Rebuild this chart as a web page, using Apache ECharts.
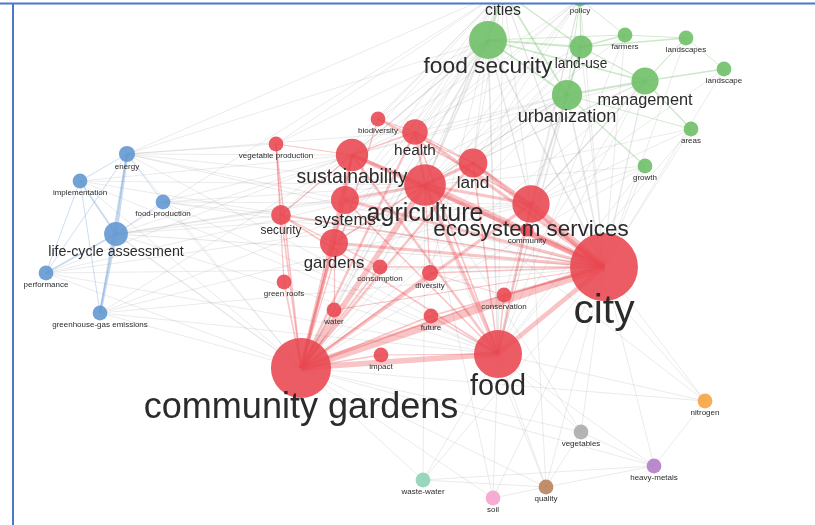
<!DOCTYPE html>
<html>
<head>
<meta charset="utf-8">
<script src="https://cdn.jsdelivr.net/npm/echarts@6/dist/echarts.min.js"></script>
<style>
  html, body { margin: 0; padding: 0; background: #ffffff; }
  #chart { width: 815px; height: 525px; }
</style>
</head>
<body>
<div id="chart"></div>
<script>
// Keyword co-occurrence map: terms, their cluster, occurrences and map coordinates.
const terms = [
  'city', 'community gardens', 'food', 'agriculture', 'ecosystem services',
  'sustainability', 'land', 'systems', 'gardens', 'health', 'security',
  'diversity', 'biodiversity', 'vegetable production', 'consumption',
  'green roofs', 'water', 'future', 'conservation', 'impact', 'community',
  'food security', 'cities', 'policy', 'land-use', 'farmers', 'landscapes',
  'landscape', 'management', 'urbanization', 'areas', 'growth',
  'life-cycle assessment', 'energy', 'implementation', 'food-production',
  'performance', 'greenhouse-gas emissions',
  'nitrogen', 'vegetables', 'heavy-metals', 'quality', 'waste-water', 'soil'
];
const clusterOf = [
  1, 1, 1, 1, 1,
  1, 1, 1, 1, 1, 1,
  1, 1, 1, 1,
  1, 1, 1, 1, 1, 1,
  2, 2, 2, 2, 2, 2,
  2, 2, 2, 2, 2,
  3, 3, 3, 3,
  3, 3,
  4, 5, 6, 7, 8, 9
];
const occurrences = [
  106, 83, 53, 40, 32,
  24, 19, 18, 18, 15, 9,
  6, 5, 5, 5,
  5, 5, 5, 5, 5, 4,
  33, 16, 5, 12, 5, 5,
  5, 17, 21, 5, 5,
  13, 6, 5, 5,
  5, 5,
  5, 5, 5, 5, 5, 5
];
const mapX = [
  604, 301, 498, 425, 531,
  352, 473, 345, 334, 415, 281,
  430, 378, 276, 380,
  284, 334, 431, 504, 381, 527,
  488, 503, 580, 581, 625, 686,
  724, 645, 567, 691, 645,
  116, 127, 80, 163,
  46, 100,
  705, 581, 654, 546, 423, 493
];
const mapY = [
  267, 368, 354, 185, 204,
  155, 163, 200, 243, 132, 215,
  273, 119, 144, 267,
  282, 310, 316, 295, 355, 230,
  40, -9, -1, 47, 35, 38,
  69, 81, 95, 129, 166,
  234, 154, 181, 202,
  273, 313,
  401, 432, 466, 487, 480, 498
];

// Co-occurrence links: [term, term, link strength]
const coOccurrence = [
  // between clusters
  ['energy', 'agriculture', 1], ['energy', 'city', 1], ['energy', 'sustainability', 1], ['energy', 'food', 1], ['energy', 'vegetable production', 1],
  ['energy', 'community gardens', 1], ['energy', 'systems', 1], ['energy', 'health', 1],
  ['implementation', 'city', 1], ['implementation', 'agriculture', 1], ['implementation', 'community gardens', 1],
  ['implementation', 'sustainability', 1], ['implementation', 'food', 1],
  ['food-production', 'agriculture', 1], ['food-production', 'city', 1], ['food-production', 'food', 1], ['food-production', 'sustainability', 1],
  ['food-production', 'community gardens', 1], ['food-production', 'security', 1], ['food-production', 'ecosystem services', 1],
  ['life-cycle assessment', 'city', 1.5], ['life-cycle assessment', 'agriculture', 1.5], ['life-cycle assessment', 'food', 1],
  ['life-cycle assessment', 'community gardens', 1.5], ['life-cycle assessment', 'sustainability', 1], ['life-cycle assessment', 'systems', 1],
  ['life-cycle assessment', 'security', 1], ['life-cycle assessment', 'ecosystem services', 1],
  ['performance', 'city', 1], ['performance', 'community gardens', 1], ['performance', 'ecosystem services', 1], ['performance', 'food', 1],
  ['performance', 'agriculture', 1], ['performance', 'sustainability', 1],
  ['greenhouse-gas emissions', 'city', 1], ['greenhouse-gas emissions', 'community gardens', 1], ['greenhouse-gas emissions', 'food', 1],
  ['greenhouse-gas emissions', 'agriculture', 1], ['greenhouse-gas emissions', 'ecosystem services', 1], ['greenhouse-gas emissions', 'sustainability', 1],
  ['food security', 'city', 2], ['food security', 'agriculture', 2], ['food security', 'food', 2], ['food security', 'community gardens', 2],
  ['food security', 'sustainability', 1.5], ['food security', 'health', 1], ['food security', 'land', 1], ['food security', 'systems', 1],
  ['food security', 'security', 1], ['food security', 'ecosystem services', 1.5], ['food security', 'gardens', 1],
  ['food security', 'vegetable production', 1], ['food security', 'biodiversity', 1], ['food security', 'energy', 1],
  ['food security', 'consumption', 1], ['food security', 'diversity', 1],
  ['urbanization', 'city', 2], ['urbanization', 'agriculture', 1.5], ['urbanization', 'ecosystem services', 1.5], ['urbanization', 'food', 1],
  ['urbanization', 'land', 1], ['urbanization', 'community gardens', 1], ['urbanization', 'sustainability', 1],
  ['urbanization', 'health', 1], ['urbanization', 'systems', 1], ['urbanization', 'gardens', 1], ['urbanization', 'conservation', 1],
  ['management', 'city', 1.5], ['management', 'ecosystem services', 1.5], ['management', 'agriculture', 1], ['management', 'food', 1], ['management', 'land', 1],
  ['management', 'sustainability', 1], ['management', 'conservation', 1], ['management', 'community gardens', 1],
  ['land-use', 'city', 1], ['land-use', 'agriculture', 1], ['land-use', 'land', 1], ['land-use', 'ecosystem services', 1], ['land-use', 'food', 1],
  ['land-use', 'sustainability', 1], ['land-use', 'community gardens', 1],
  ['cities', 'city', 1.5], ['cities', 'agriculture', 1.5], ['cities', 'community gardens', 1], ['cities', 'sustainability', 1], ['cities', 'health', 1],
  ['cities', 'food', 1], ['cities', 'vegetable production', 1], ['cities', 'systems', 1], ['cities', 'gardens', 1],
  ['cities', 'land', 1], ['cities', 'ecosystem services', 1], ['cities', 'biodiversity', 1], ['cities', 'security', 1],
  ['cities', 'energy', 1], ['cities', 'life-cycle assessment', 1],
  ['policy', 'city', 1], ['policy', 'agriculture', 1], ['policy', 'food', 1], ['policy', 'community gardens', 1], ['policy', 'ecosystem services', 1],
  ['policy', 'sustainability', 1], ['policy', 'land', 1], ['policy', 'health', 1], ['policy', 'systems', 1],
  ['areas', 'city', 1], ['areas', 'ecosystem services', 1], ['areas', 'food', 1], ['areas', 'agriculture', 1],
  ['growth', 'city', 1], ['growth', 'food', 1], ['growth', 'agriculture', 1], ['growth', 'community gardens', 1], ['growth', 'ecosystem services', 1],
  ['landscapes', 'ecosystem services', 1], ['landscape', 'ecosystem services', 1], ['landscape', 'city', 1], ['farmers', 'agriculture', 1],
  ['farmers', 'food', 1], ['landscapes', 'city', 1], ['farmers', 'city', 1],
  ['nitrogen', 'city', 1], ['nitrogen', 'agriculture', 1], ['nitrogen', 'food', 1], ['nitrogen', 'ecosystem services', 1], ['nitrogen', 'heavy-metals', 1],
  ['nitrogen', 'community gardens', 1],
  ['vegetables', 'community gardens', 1], ['vegetables', 'heavy-metals', 1], ['vegetables', 'city', 1], ['vegetables', 'food', 1],
  ['vegetables', 'agriculture', 1],
  ['heavy-metals', 'quality', 1], ['heavy-metals', 'city', 1], ['heavy-metals', 'community gardens', 1], ['heavy-metals', 'waste-water', 1],
  ['heavy-metals', 'food', 1],
  ['quality', 'food', 1], ['quality', 'city', 1], ['quality', 'community gardens', 1], ['quality', 'soil', 1], ['quality', 'agriculture', 1],
  ['quality', 'ecosystem services', 1], ['quality', 'vegetables', 1],
  ['soil', 'community gardens', 1], ['soil', 'food', 1], ['soil', 'agriculture', 1], ['soil', 'city', 1],
  ['waste-water', 'community gardens', 1], ['waste-water', 'food', 1], ['waste-water', 'quality', 1], ['waste-water', 'city', 1],
  ['waste-water', 'agriculture', 1],
  // urban food cluster
  ['community gardens', 'city', 10], ['agriculture', 'city', 8], ['ecosystem services', 'city', 8],
  ['community gardens', 'agriculture', 7], ['community gardens', 'food', 7], ['food', 'city', 6],
  ['sustainability', 'city', 5], ['land', 'city', 5], ['health', 'city', 4], ['systems', 'city', 4], ['gardens', 'city', 4],
  ['community gardens', 'sustainability', 4], ['community gardens', 'gardens', 4], ['community gardens', 'systems', 3],
  ['community gardens', 'health', 3], ['community gardens', 'land', 3], ['community gardens', 'ecosystem services', 4],
  ['food', 'agriculture', 4], ['food', 'ecosystem services', 3], ['food', 'sustainability', 3],
  ['agriculture', 'sustainability', 4], ['agriculture', 'land', 4], ['agriculture', 'health', 3], ['agriculture', 'ecosystem services', 4],
  ['agriculture', 'systems', 3], ['ecosystem services', 'land', 3], ['ecosystem services', 'biodiversity', 2],
  ['conservation', 'city', 3], ['diversity', 'city', 2], ['consumption', 'city', 2], ['future', 'city', 2], ['community', 'city', 2],
  ['security', 'city', 2], ['water', 'city', 1.5],
  ['community gardens', 'security', 2], ['community gardens', 'green roofs', 2], ['community gardens', 'water', 2],
  ['community gardens', 'consumption', 2], ['community gardens', 'impact', 2], ['community gardens', 'diversity', 2],
  ['community gardens', 'future', 2], ['community gardens', 'conservation', 2], ['community gardens', 'vegetable production', 2],
  ['community gardens', 'biodiversity', 1.5],
  ['food', 'land', 2], ['food', 'systems', 2], ['food', 'security', 2], ['food', 'health', 2], ['food', 'conservation', 2],
  ['food', 'future', 1.5], ['food', 'impact', 1.5],
  ['sustainability', 'systems', 2], ['sustainability', 'health', 2], ['sustainability', 'gardens', 2], ['sustainability', 'security', 1.5],
  ['vegetable production', 'security', 1.5], ['vegetable production', 'green roofs', 1.5], ['vegetable production', 'sustainability', 1.5],
  ['security', 'gardens', 1.5], ['biodiversity', 'health', 1.5], ['biodiversity', 'land', 1.5], ['health', 'land', 1.5],
  ['gardens', 'water', 1.5], ['gardens', 'consumption', 1.5], ['agriculture', 'gardens', 2], ['agriculture', 'diversity', 1.5],
  ['diversity', 'conservation', 1],
  // life-cycle cluster
  ['life-cycle assessment', 'energy', 3], ['life-cycle assessment', 'greenhouse-gas emissions', 3], ['energy', 'greenhouse-gas emissions', 2],
  ['life-cycle assessment', 'implementation', 2], ['life-cycle assessment', 'performance', 2], ['energy', 'implementation', 1],
  ['energy', 'performance', 1], ['implementation', 'greenhouse-gas emissions', 1], ['implementation', 'performance', 1],
  ['food-production', 'life-cycle assessment', 1], ['energy', 'food-production', 1],
  // urbanization cluster
  ['food security', 'cities', 3], ['food security', 'land-use', 2], ['food security', 'urbanization', 2], ['food security', 'management', 2],
  ['urbanization', 'management', 2], ['urbanization', 'growth', 1.5], ['urbanization', 'areas', 1], ['land-use', 'farmers', 1.5],
  ['land-use', 'landscapes', 1.5], ['land-use', 'management', 1.5], ['land-use', 'urbanization', 1.5], ['management', 'landscape', 1.5],
  ['management', 'areas', 1.5], ['landscapes', 'landscape', 1], ['farmers', 'landscapes', 1], ['policy', 'land-use', 1.5],
  ['policy', 'urbanization', 1], ['cities', 'urbanization', 2], ['cities', 'land-use', 1.5], ['policy', 'farmers', 1],
  ['food security', 'farmers', 1], ['management', 'landscapes', 1]
];

// cluster palette
const clusterColors = {
  1: [232, 70, 78], 2: [108, 190, 100], 3: [96, 150, 208],
  4: [247, 160, 60], 5: [170, 170, 170], 6: [178, 122, 198],
  7: [186, 128, 88], 8: [140, 210, 182], 9: [245, 160, 205]
};
const rgba = (c, a) => `rgba(${c[0]},${c[1]},${c[2]},${a})`;

const nodeRadius = w => 3.3 * Math.sqrt(w);
const labelSize = r => (r < 9 ? 8 : 1.2 * r);

const nodes = terms.map((t, i) => {
  const r = nodeRadius(occurrences[i]);
  const fs = labelSize(r);
  return {
    name: t,
    value: [mapX[i], mapY[i]],
    symbolSize: 2 * r,
    itemStyle: { color: rgba(clusterColors[clusterOf[i]], 0.88) },
    label: {
      show: true,
      position: 'bottom',
      distance: 3 - 0.3 * fs,
      fontSize: fs,
      color: '#2b2b2b',
      fontFamily: '"Liberation Sans", Arial, sans-serif'
    }
  };
});

const indexOf = {};
terms.forEach((t, i) => { indexOf[t] = i; });

const links = coOccurrence.map(([a, b, s]) => {
  const ca = clusterOf[indexOf[a]], cb = clusterOf[indexOf[b]];
  const same = ca === cb;
  let color, width;
  if (same && ca === 1) { color = rgba(clusterColors[1], 0.32); width = 0.8 * s; }
  else if (same) { color = rgba(clusterColors[ca], 0.35); width = 0.9 * s; }
  else { color = 'rgba(150,150,150,0.24)'; width = 0.8 * s; }
  return { source: a, target: b, lineStyle: { color, width, curveness: 0 } };
});

const chart = echarts.init(document.getElementById('chart'), null, { renderer: 'canvas' });
chart.setOption({
  animation: false,
  backgroundColor: '#ffffff',
  grid: { left: 0, right: 0, top: 0, bottom: 0 },
  xAxis: { type: 'value', min: 0, max: 815, show: false },
  yAxis: { type: 'value', min: 0, max: 525, inverse: true, show: false },
  series: [{
    type: 'graph',
    coordinateSystem: 'cartesian2d',
    layout: 'none',
    data: nodes,
    links: links,
    symbol: 'circle',
    emphasis: { disabled: true },
    lineStyle: { opacity: 1 }
  }],
  graphic: [
    { type: 'rect', shape: { x: 0, y: 0, width: 815, height: 3 }, style: { fill: '#ffffff' }, z: 100 },
    { type: 'rect', shape: { x: 0, y: 0, width: 12, height: 525 }, style: { fill: '#ffffff' }, z: 100 },
    { type: 'rect', shape: { x: 0, y: 2.5, width: 815, height: 2 }, style: { fill: '#4a78c8' }, z: 101 },
    { type: 'rect', shape: { x: 12, y: 3, width: 2, height: 522 }, style: { fill: '#4a78c8' }, z: 101 }
  ]
});
</script>
</body>
</html>
